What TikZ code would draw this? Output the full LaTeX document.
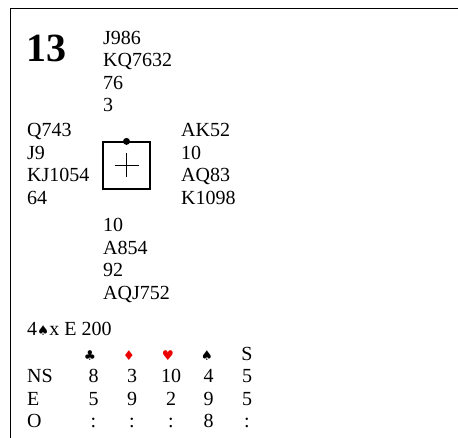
\documentclass[tikz,border=0pt]{standalone}
\usepackage{fontspec}
\setmainfont{Liberation Serif}
\newfontfamily\suitfont{DejaVu Sans}
\definecolor{suitred}{RGB}{235,0,0}
\begin{document}
\begin{tikzpicture}[x=1pt,y=-1pt,
  txt/.style={anchor=base west, inner sep=0pt, font=\fontsize{20}{22.5}\selectfont},
  ctr/.style={anchor=base, inner sep=0pt, font=\fontsize{20}{22.5}\selectfont},
  suit/.style={anchor=base, inner sep=0pt, font=\suitfont\fontsize{13.5}{15}\selectfont},
  frame/.style={line width=1pt},
  boxline/.style={line width=1.2pt}]
\useasboundingbox (0,0) rectangle (458,438);
% frame
\coordinate (ftr) at (458,9);
\coordinate (ftl) at (10,9);
\coordinate (fbl) at (10,438);
\draw[frame] (ftr) -- (ftl) -- (fbl);
% board number
\node[anchor=base west, inner sep=0pt, font=\fontsize{40}{41}\selectfont\bfseries] (num) at (26.5,62) {13};
% North
\node[txt] (n1) at (103,44.5) {J986};
\node[txt] (n2) at (103,67) {KQ7632};
\node[txt] (n3) at (103,89.5) {76};
\node[txt] (n4) at (103,112) {3};
% West
\node[txt] (w1) at (27,137) {Q743};
\node[txt] (w2) at (27,159.5) {J9};
\node[txt] (w3) at (27,182) {KJ1054};
\node[txt] (w4) at (27,204.5) {64};
% East
\node[txt] (e1) at (181,137) {AK52};
\node[txt] (e2) at (181,159.5) {10};
\node[txt] (e3) at (181,182) {AQ83};
\node[txt] (e4) at (181,204.5) {K1098};
% South
\node[txt] (s1) at (103,232) {10};
\node[txt] (s2) at (103,254.5) {A854};
\node[txt] (s3) at (103,277) {92};
\node[txt] (s4) at (103,299.5) {AQJ752};
% compass box
\node[draw, boxline, minimum size=47pt, inner sep=0pt] (box) at (126.5,165.5) {};
\fill (box.north) circle (3.5pt);
\coordinate (cl) at (114.5,165.5);
\coordinate (cr) at (138.5,165.5);
\coordinate (ct) at (126.5,153.5);
\coordinate (cb) at (126.5,177.5);
\draw[line width=0.9pt] (cl) -- (cr);
\draw[line width=0.9pt] (ct) -- (cb);
% contract
\node[txt] (contract) at (27,336) {4{\suitfont\fontsize{13.5}{15}\selectfont ♠}x E 200};
% table header
\node[suit] (hc) at (90,360) {♣};
\node[suit, text=suitred] (hd) at (129,360) {♦};
\node[suit, text=suitred] (hh) at (168,360) {♥};
\node[suit] (hs) at (207,360) {♠};
\node[ctr] (hn) at (247,360) {S};
% rows
\node[txt] (rns) at (27,383) {NS};
\node[ctr] (ns1) at (93.5,383) {8};
\node[ctr] (ns2) at (132,383) {3};
\node[ctr] (ns3) at (171,383) {10};
\node[ctr] (ns4) at (208.5,383) {4};
\node[ctr] (ns5) at (247,383) {5};
\node[txt] (re) at (27,405) {E};
\node[ctr] (e1v) at (93.5,405) {5};
\node[ctr] (e2v) at (132,405) {9};
\node[ctr] (e3v) at (171,405) {2};
\node[ctr] (e4v) at (208.5,405) {9};
\node[ctr] (e5v) at (247,405) {5};
\node[txt] (ro) at (27,427) {O};
\node[ctr] (o1) at (93.5,427) {:};
\node[ctr] (o2) at (132,427) {:};
\node[ctr] (o3) at (171,427) {:};
\node[ctr] (o4) at (208.5,427) {8};
\node[ctr] (o5) at (247,427) {:};
\end{tikzpicture}
\end{document}
